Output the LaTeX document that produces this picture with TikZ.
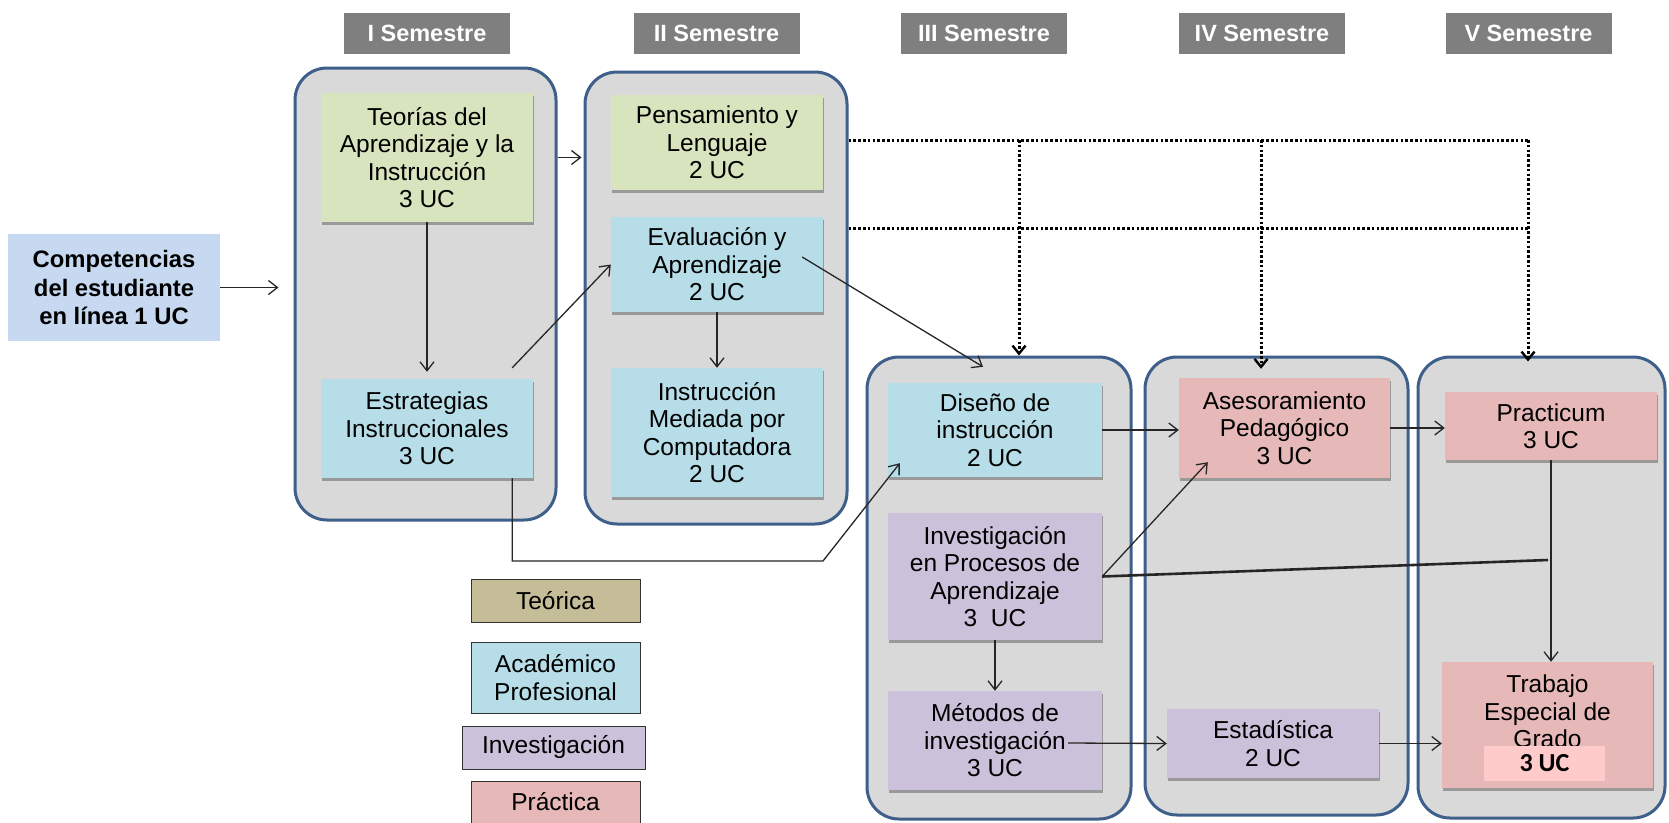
\documentclass[tikz,border=0pt]{standalone}
\usepackage{fontspec}
\setmainfont{Liberation Sans}
\newfontfamily\calfont{Carlito}
\usetikzlibrary{arrows.meta,shadows,calc}
\definecolor{cgreen}{HTML}{D7E4BD}
\definecolor{cblue}{HTML}{B7DEE8}
\definecolor{clav}{HTML}{CCC1DA}
\definecolor{cpink}{HTML}{E6B9B8}
\definecolor{ctan}{HTML}{C4BD97}
\definecolor{ccomp}{HTML}{C6D9F1}
\definecolor{cgroup}{HTML}{D9D9D9}
\definecolor{cgborder}{HTML}{3E5F8A}
\definecolor{chead}{HTML}{7F7F7F}
\definecolor{cover}{HTML}{FFCACA}
\begin{document}
\begin{tikzpicture}[x=1pt,y=-1pt,
  txt/.style={font=\fontsize{24.5}{27.5}\selectfont, align=center, inner sep=0pt},
  course/.style={txt, draw=none, drop shadow={shadow xshift=1pt, shadow yshift=-3pt, opacity=0.45, fill=black!70}},
  group/.style={draw=cgborder, line width=3pt, fill=cgroup, rounded corners=32pt, inner sep=0pt},
  head/.style={fill=chead, text=white, font=\bfseries\fontsize{23.5}{26}\selectfont, minimum width=166pt, minimum height=41pt, inner sep=0pt},
  legend/.style={txt, draw=black!80, line width=1pt},
  arr/.style={draw=black!85, line width=1.3pt, -{Straight Barb[length=9pt,width=14pt]}},
  dots/.style={draw=black, line width=3pt, dash pattern=on 2.6pt off 2.2pt},
  darr/.style={dots, -{Straight Barb[length=8pt,width=13pt,line width=2.4pt]}}
]
\fill[white] (0,0) rectangle (1669,822);
\useasboundingbox (0,0) rectangle (1669,822);

% semester groups
\node[group, minimum width=261pt, minimum height=452pt] (g1) at (425.5,294) {};
\node[group, minimum width=262pt, minimum height=452pt] (g2) at (716,298) {};
\node[group, minimum width=264pt, minimum height=462pt] (g3) at (999,588) {};
\node[group, minimum width=263pt, minimum height=458pt] (g4) at (1276.5,586) {};
\node[group, minimum width=247pt, minimum height=461pt] (g5) at (1541.5,587.5) {};

% headers
\node[head] (h1) at (427,33.5) {I Semestre};
\node[head] (h2) at (716.5,33.5) {II Semestre};
\node[head] (h3) at (984,33.5) {III Semestre};
\node[head] (h4) at (1262,33.5) {IV Semestre};
\node[head] (h5) at (1528.5,33.5) {V Semestre};

% competencias
\node[fill=ccomp, minimum width=212pt, minimum height=107pt, align=center, inner sep=0pt,
      font=\bfseries\fontsize{23.8}{28.5}\selectfont] (comp) at (114,287.5)
      {Competencias\\del estudiante\\en línea 1 UC};

% courses
\node[course, fill=cgreen, minimum width=212pt, minimum height=129pt] (teo) at (427,157.5)
  {Teorías del\\Aprendizaje y la\\Instrucción\\3 UC};
\node[course, fill=cblue, minimum width=212pt, minimum height=99pt] (est) at (427,428.5)
  {Estrategias\\Instruccionales\\3 UC};
\node[course, fill=cgreen, minimum width=212pt, minimum height=95pt] (pen) at (717,142.5)
  {Pensamiento y\\Lenguaje\\2 UC};
\node[course, fill=cblue, minimum width=212pt, minimum height=95pt] (eva) at (717,264.5)
  {Evaluación y\\Aprendizaje\\2 UC};
\node[course, fill=cblue, minimum width=212pt, minimum height=129pt] (ins) at (717,432.5)
  {Instrucción\\Mediada por\\Computadora\\2 UC};
\node[course, fill=cblue, minimum width=214pt, minimum height=94pt] (dis) at (995,430)
  {Diseño de\\instrucción\\2 UC};
\node[course, fill=clav, minimum width=214pt, minimum height=127pt] (inv) at (995,576.5)
  {Investigación\\en Procesos de\\Aprendizaje\\3~~UC};
\node[course, fill=clav, minimum width=214pt, minimum height=99pt] (met) at (995,740.5)
  {Métodos de\\investigación\\3 UC};
\node[course, fill=cpink, minimum width=211pt, minimum height=100pt] (ase) at (1284.5,428)
  {Asesoramiento\\Pedagógico\\3 UC};
\node[course, fill=clav, minimum width=212pt, minimum height=69pt] (sta) at (1273,743.5)
  {Estadística\\2 UC};
\node[course, fill=cpink, minimum width=212pt, minimum height=68pt] (pra) at (1551,426)
  {Practicum\\3 UC};
\node[course, fill=cpink, minimum width=211pt, minimum height=126pt] (tra) at (1547.5,725)
  {Trabajo\\Especial de\\Grado\\\mbox{}};
\node[fill=cover, minimum width=121pt, minimum height=35pt, inner sep=0pt,
      font=\calfont\bfseries\fontsize{26}{28}\selectfont] (tuc) at (1544.5,763.5) {3 UC};

% legend
\node[legend, fill=ctan, minimum width=169pt, minimum height=43pt] (lt) at (555.5,600.5) {Teórica};
\node[legend, fill=cblue, minimum width=169pt, minimum height=71pt] (la) at (555.5,677.5) {Académico\\Profesional};
\node[legend, fill=clav, minimum width=183pt, minimum height=43pt] (li) at (553.5,747.5) {Investigación};
\node[legend, fill=cpink, minimum width=169pt, minimum height=42pt] (lp) at (555.5,802) {Práctica};

% connectors
\draw[arr] (comp.east) -- ($(g1.west |- comp.east)+(-15,0)$);
\draw[arr] (g1.east |- teo.center) -- ($(g2.west |- teo.center)+(-2,0)$);
\draw[arr] (teo.south) -- ($(est.north)+(0,-7)$);
\draw[arr] ($(est.north east)+(-21,-11)$) -- (eva.west);
\draw[arr] (eva.south) -- (ins.north);
\draw[arr] ($(eva.east)+(-21,-7.5)$) -- ($(dis.north)+(-12,-16)$);
\coordinate (k1) at (823,561);
\draw[arr] ($(est.south east)+(-21,0)$) |- (k1) -- ($(dis.south west)+(12,-14)$);

\coordinate (r1) at (0,140);
\coordinate (r2) at (0,228);
\coordinate (v3) at (1019,0);
\coordinate (v4) at (1261,0);
\coordinate (v5) at (1528,0);
\draw[dots] (g2.east |- r1) -- (v5 |- r1);
\draw[dots] (g2.east |- r2) -- (v5 |- r2);
\draw[darr] (v3 |- r1) -- (v3 |- g3.north);
\draw[darr] (v4 |- r1) -- ($(v4 |- ase.north)+(0,-9)$);
\draw[darr] (v5 |- r1) -- ($(v5 |- g5.north)+(0,6)$);

\draw[arr] (dis.east) -- (dis.east -| ase.west);
\draw[arr] (ase.east) -- (ase.east -| pra.west);
\draw[arr] (inv.east) -- ($(ase.south west)+(29,-16)$);
\coordinate (k2) at (1548,560);
\draw[line width=2.6pt, black!85] (inv.east) -- (k2);
\draw[arr] (pra.south) -- (pra.south |- tra.north);
\draw[arr] (inv.south) -- (met.north);
\draw[arr] ($(met.east)+(-34,2.5)$) -- (sta.west);
\draw[arr] (sta.east) -- (sta.east -| tra.west);
\end{tikzpicture}
\end{document}
